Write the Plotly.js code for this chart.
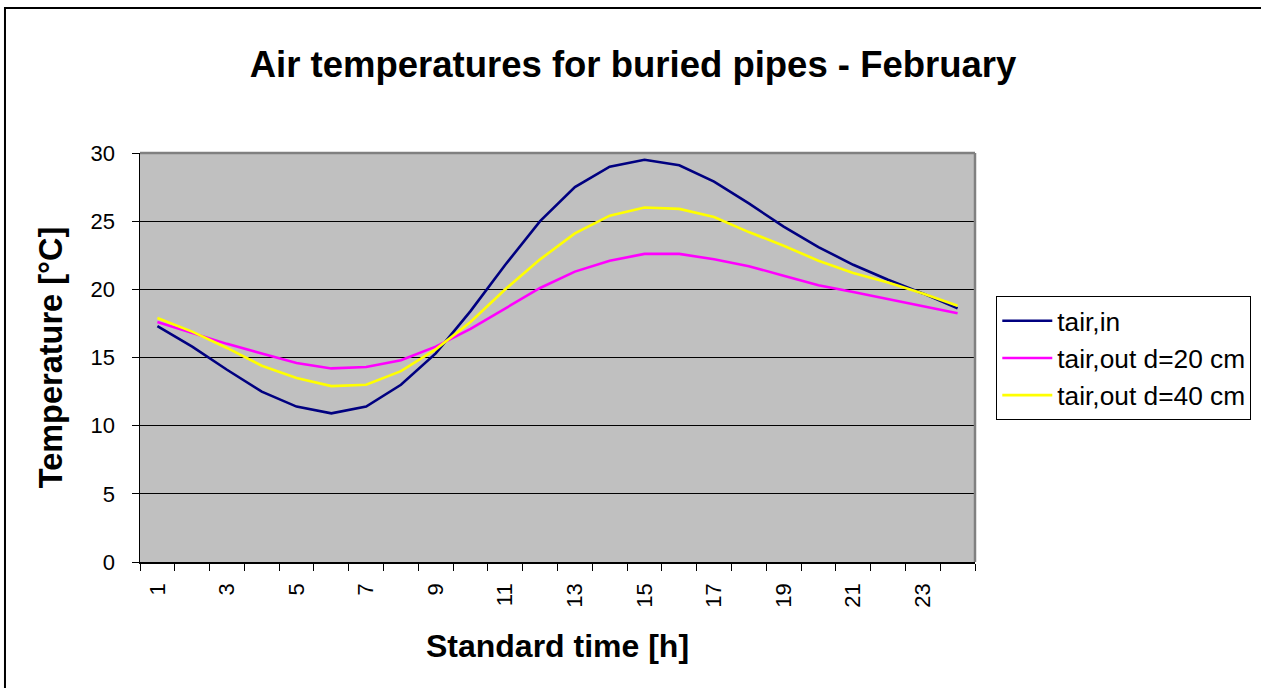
<!DOCTYPE html>
<html>
<head>
<meta charset="utf-8">
<script src="https://cdn.plot.ly/plotly-3.0.1.min.js"></script>
<style>
  html, body { margin: 0; padding: 0; background: #ffffff; overflow: hidden; }
  #chart { width: 1261px; height: 688px; }
</style>
</head>
<body>
<div id="chart"></div>
<script>
// Data
const hours = [1, 2, 3, 4, 5, 6, 7, 8, 9, 10, 11, 12, 13, 14, 15, 16, 17, 18, 19, 20, 21, 22, 23, 24];
const tairIn = [17.3, 15.8, 14.1, 12.5, 11.4, 10.9, 11.4, 13.0, 15.3, 18.4, 21.8, 25.0, 27.5, 29.0, 29.5, 29.1, 27.9, 26.3, 24.6, 23.1, 21.8, 20.7, 19.7, 18.6];
const tairOut20 = [17.6, 16.8, 16.0, 15.3, 14.6, 14.2, 14.3, 14.8, 15.8, 17.1, 18.6, 20.1, 21.3, 22.1, 22.6, 22.6, 22.2, 21.7, 21.0, 20.3, 19.8, 19.3, 18.8, 18.25];
const tairOut40 = [17.9, 16.9, 15.7, 14.4, 13.5, 12.9, 13.0, 14.0, 15.6, 17.6, 20.0, 22.2, 24.1, 25.4, 26.0, 25.9, 25.3, 24.2, 23.2, 22.1, 21.2, 20.5, 19.7, 18.8];
const seriesNames = ["tair,in", "tair,out d=20 cm", "tair,out d=40 cm"];
const xTickLabels = ["1", "3", "5", "7", "9", "11", "13", "15", "17", "19", "21", "23"];
const yTickValues = [0, 5, 10, 15, 20, 25, 30];

const FONT = "Liberation Sans, Arial, sans-serif";

const traces = [
  { x: hours, y: tairIn, name: seriesNames[0], type: "scatter", mode: "lines",
    line: { color: "#000080", width: 2.6 } },
  { x: hours, y: tairOut20, name: seriesNames[1], type: "scatter", mode: "lines",
    line: { color: "#FF00FF", width: 2.6 } },
  { x: hours, y: tairOut40, name: seriesNames[2], type: "scatter", mode: "lines",
    line: { color: "#FFFF00", width: 2.6 } }
];

const boundaries = hours.map(h => h - 0.5).concat([hours[hours.length - 1] + 0.5]);

const layout = {
  width: 1261,
  height: 688,
  paper_bgcolor: "#ffffff",
  plot_bgcolor: "#C0C0C0",
  margin: { l: 140, r: 286, t: 153, b: 126, pad: 0, autoexpand: false },
  font: { family: FONT, color: "#000000", size: 22 },
  title: {
    text: "<b>Air temperatures for buried pipes - February</b>",
    font: { family: FONT, size: 36.5, color: "#000000" },
    x: 0.502, xref: "container", xanchor: "center",
    y: 1, yref: "container", yanchor: "top", pad: { t: 51 }
  },
  showlegend: true,
  legend: {
    x: 1.0255, y: 0.65, xanchor: "left", yanchor: "top",
    bgcolor: "#ffffff", bordercolor: "#000000", borderwidth: 1,
    font: { family: FONT, size: 26.3, color: "#000000" },
    itemwidth: 50, tracegroupgap: 0
  },
  xaxis: {
    range: [0.5, 24.5],
    tickmode: "array",
    tickvals: xTickLabels.map(Number),
    ticktext: xTickLabels,
    tickangle: -90,
    ticks: "",
    ticklabelstandoff: 11,
    tickfont: { family: FONT, size: 22 },
    showgrid: false,
    zeroline: false,
    showline: true, linecolor: "#000000", linewidth: 1.5,
    minor: { tickmode: "array", tickvals: boundaries, ticks: "outside", ticklen: 7, tickcolor: "#000000", tickwidth: 1, showgrid: false },
    title: { text: "<b>Standard time [h]</b>", font: { family: FONT, size: 32 }, standoff: 28 },
    fixedrange: true
  },
  yaxis: {
    range: [0, 30],
    tickmode: "array",
    tickvals: yTickValues,
    ticks: "outside", ticklen: 7, tickcolor: "#000000", tickwidth: 1,
    ticklabelstandoff: 12,
    tickfont: { family: FONT, size: 22 },
    showgrid: true, gridcolor: "#000000", gridwidth: 1,
    zeroline: false,
    showline: true, linecolor: "#000000", linewidth: 1.5,
    title: { text: "<b>Temperature [°C]</b>", font: { family: FONT, size: 32.5 }, standoff: 18 },
    fixedrange: true
  },
  shapes: [
    { type: "line", xref: "paper", yref: "paper", x0: 0, x1: 1, y0: 1, y1: 1, line: { color: "#808080", width: 2.5 }, layer: "above" },
    { type: "line", xref: "paper", yref: "paper", x0: 1, x1: 1, y0: 0, y1: 1, line: { color: "#808080", width: 2.5 }, layer: "above" },
    { type: "rect", xref: "paper", yref: "paper", x0: -0.1617, x1: 1.5, y0: -0.5, y1: 1.3545, line: { color: "#000000", width: 2 }, fillcolor: "rgba(0,0,0,0)", layer: "above" }
  ]
};

Plotly.newPlot("chart", traces, layout, { displayModeBar: false, staticPlot: true });
</script>
</body>
</html>
